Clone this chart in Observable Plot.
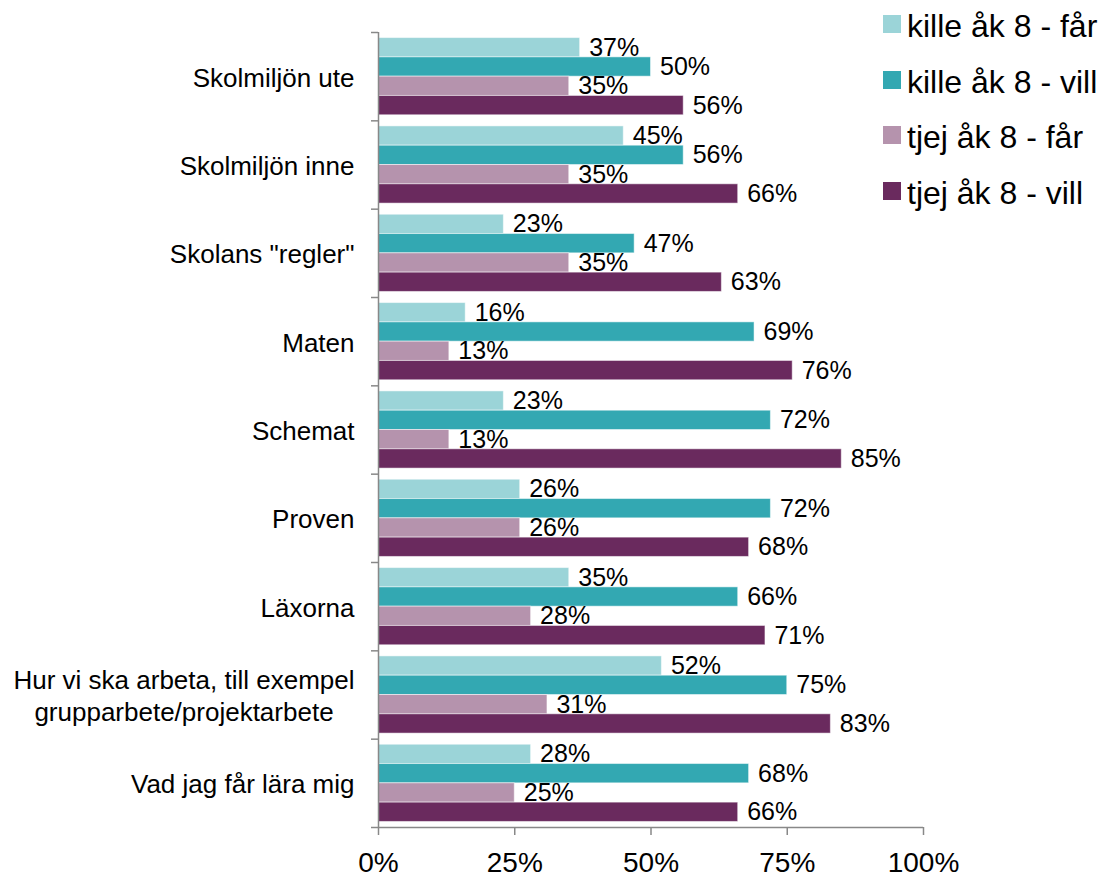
<!DOCTYPE html>
<html>
<head>
<meta charset="utf-8">
<script src="https://cdn.jsdelivr.net/npm/d3@7"></script>
<script src="https://cdn.jsdelivr.net/npm/@observablehq/plot@0.6"></script>
<style>
  html, body { margin: 0; padding: 0; background: #fff; }
  #wrap { position: relative; width: 1111px; height: 881px; font-family: "Liberation Sans", Arial, sans-serif; }
  #legend { position: absolute; left: 883px; top: 0; }
  .row { position: absolute; left: 0; width: 230px; height: 36px; }
  .sw { position: absolute; left: 0; top: 7px; width: 18px; height: 18px; }
  .lab { position: absolute; left: 24px; top: 0; font-size: 32px; line-height: 36px; color: #000; white-space: nowrap; }
</style>
</head>
<body>
<div id="wrap"><div id="legend"></div></div>
<script>
// ---- data ----
const categories = [
  "Skolmiljön ute",
  "Skolmiljön inne",
  "Skolans \"regler\"",
  "Maten",
  "Schemat",
  "Proven",
  "Läxorna",
  "Hur vi ska arbeta, till exempel\ngrupparbete/projektarbete",
  "Vad jag får lära mig"
];
const series = ["kille åk 8 - får", "kille åk 8 - vill", "tjej åk 8 - får", "tjej åk 8 - vill"];
const killeFar  = [37, 45, 23, 16, 23, 26, 35, 52, 28];
const killeVill = [50, 56, 47, 69, 72, 72, 66, 75, 68];
const tjejFar   = [35, 35, 35, 13, 13, 26, 28, 31, 25];
const tjejVill  = [56, 66, 63, 76, 85, 68, 71, 83, 66];
const colors = ["#9bd4d8", "#33a8b2", "#b593ad", "#6a2a5e"];
const xTicks = [0, 25, 50, 75, 100];

// ---- build table ----
const seriesValues = [killeFar, killeVill, tjejFar, tjejVill];
const rows = [];
categories.forEach((c, ci) => {
  series.forEach((s, si) => rows.push({category: c, ci, series: s, si, value: seriesValues[si][ci]}));
});

const PAD = 0.063;
const W = (1 - 2 * PAD) / 4;
const n = categories.length;

const chart = Plot.plot({
  width: 1111,
  height: 881,
  marginLeft: 378,
  marginRight: 188,
  marginTop: 32,
  marginBottom: 54,
  style: {fontFamily: "'Liberation Sans', Arial, sans-serif", fontSize: "26px", background: "#fff", overflow: "visible"},
  x: {domain: [0, 100]},
  y: {domain: [0, n], reverse: true},
  color: {domain: series, range: colors},
  marks: [
    Plot.rect(rows, {
      x1: 0,
      x2: "value",
      y1: d => d.ci + PAD + d.si * W,
      y2: d => d.ci + PAD + (d.si + 1) * W,
      fill: "series",
      stroke: "white",
      strokeOpacity: 0.5,
      strokeWidth: 1
    }),
    Plot.text(rows, {
      x: "value",
      y: d => d.ci + PAD + (d.si + 0.5) * W,
      text: d => d.value + "%",
      dx: 9,
      textAnchor: "start",
      fontSize: 25,
      fill: "black"
    }),
    Plot.ruleX([0], {stroke: "#888", strokeWidth: 1.5}),
    Plot.ruleY([n], {stroke: "#888", strokeWidth: 1.5}),
    Plot.axisY({
      ticks: d3.range(n + 1),
      tickSize: 7,
      tickFormat: () => "",
      stroke: "#888",
      strokeWidth: 1.5,
      label: null
    }),
    Plot.axisY({
      ticks: d3.range(n).map(i => i + 0.5),
      tickSize: 0,
      tickPadding: 24,
      tickFormat: v => categories[Math.round(v - 0.5)],
      fontSize: 26,
      lineHeight: 1.21,
      label: null
    }),
    Plot.axisX({
      ticks: xTicks,
      tickSize: 8,
      tickPadding: 17,
      tickFormat: d => d + "%",
      stroke: "#888",
      strokeWidth: 1.5,
      fontSize: 28,
      label: null
    })
  ]
});

const wrap = document.getElementById("wrap");
wrap.insertBefore(chart, wrap.firstChild);

// center the lines of multi-line category labels against each other
chart.querySelectorAll("text").forEach(t => {
  const ts = t.querySelectorAll("tspan");
  if (ts.length > 1) {
    const ws = Array.from(ts).map(s => s.getComputedTextLength());
    const m = Math.max(...ws);
    ts.forEach((s, i) => {
      const x0 = parseFloat(s.getAttribute("x") || 0);
      s.setAttribute("x", x0 - (m - ws[i]) / 2);
    });
  }
});

// legend
const legend = document.getElementById("legend");
series.forEach((s, i) => {
  const row = document.createElement("div");
  row.className = "row";
  row.style.top = (8 + i * 55.5) + "px";
  const sw = document.createElement("div");
  sw.className = "sw";
  sw.style.background = colors[i];
  const lab = document.createElement("span");
  lab.className = "lab";
  lab.textContent = s;
  row.appendChild(sw);
  row.appendChild(lab);
  legend.appendChild(row);
});
</script>
</body>
</html>
